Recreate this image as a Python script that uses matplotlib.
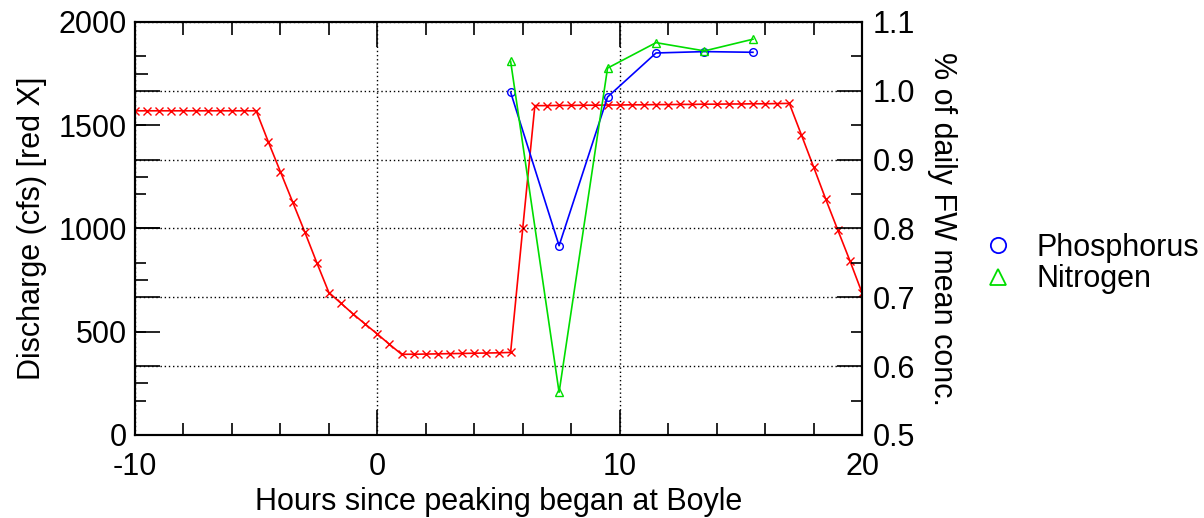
import matplotlib
matplotlib.use("Agg")
import matplotlib.pyplot as plt
from matplotlib.lines import Line2D
from matplotlib.ticker import MultipleLocator, FormatStrFormatter
import numpy as np

plt.rcParams["font.family"] = ["Liberation Sans", "DejaVu Sans"]
plt.rcParams["axes.unicode_minus"] = False

# discharge at Boyle, every half hour
hours = np.arange(-10, 20.01, 0.5)
discharge = [
    1570, 1570, 1570, 1570, 1570, 1570, 1570, 1570, 1570, 1570, 1570,
    1420, 1275, 1130, 985, 835, 690, 638, 586, 537, 489, 439, 391,
    391, 392, 393, 394, 395, 396, 397, 398, 400,
    1000,
    1595, 1595, 1596, 1596, 1597, 1597, 1598, 1598, 1599, 1599, 1600,
    1600, 1601, 1601, 1602, 1602, 1603, 1603, 1604, 1604, 1605, 1606,
    1453, 1299, 1143, 993, 844, 689,
]

# concentration samples, fraction of daily flow-weighted mean
sample_hours = [5.5, 7.5, 9.5, 11.5, 13.5, 15.5]
phosphorus = [0.998, 0.775, 0.991, 1.055, 1.057, 1.056]
nitrogen = [1.043, 0.562, 1.033, 1.070, 1.058, 1.075]

red = "#ff0000"
blue = "#0000ff"
green = "#00dd00"
fs = 22

fig = plt.figure(figsize=(12.04, 5.18), dpi=100)
ax = fig.add_axes([135 / 1204, 1 - 435 / 518, (862 - 135) / 1204, (435 - 22) / 518])
ax2 = ax.twinx()

ax.plot(hours, discharge, color=red, lw=1.2, marker="x", ms=6, mew=1.0, zorder=3)
ax2.plot(sample_hours, phosphorus, color=blue, lw=1.2, marker="o", ms=5.5,
         mfc="none", mew=1.0)
ax2.plot(sample_hours, nitrogen, color=green, lw=1.2, marker="^", ms=5.5,
         mfc="none", mew=1.0)

ax.set_xlim(-10, 20)
ax.set_ylim(0, 2000)
ax2.set_ylim(0.5, 1.1)

ax.xaxis.set_major_locator(MultipleLocator(10))
ax.xaxis.set_minor_locator(MultipleLocator(2))
ax.yaxis.set_major_locator(MultipleLocator(500))
ax.yaxis.set_minor_locator(MultipleLocator(250))
ax2.yaxis.set_major_locator(MultipleLocator(0.1))
ax2.yaxis.set_minor_locator(MultipleLocator(0.05))
ax2.yaxis.set_major_formatter(FormatStrFormatter("%.1f"))

ax.tick_params(axis="x", which="both", direction="in", top=True, bottom=True,
               labelsize=fs, pad=12, width=1.2)
ax.tick_params(axis="x", which="major", length=18)
ax.tick_params(axis="x", which="minor", length=9)
ax.tick_params(axis="y", which="both", direction="in", left=True, right=False,
               labelsize=fs, pad=6, width=1.2)
ax.tick_params(axis="y", which="major", length=18)
ax.tick_params(axis="y", which="minor", length=9)
ax2.tick_params(axis="y", which="both", direction="in", left=True, right=True,
                labelleft=False, labelright=True, labelsize=fs, pad=8, width=1.2)
ax2.tick_params(axis="y", which="major", length=18)
ax2.tick_params(axis="y", which="minor", length=8)

ax.grid(True, axis="x", which="major", color="black", linestyle=(0, (1, 2)), lw=1.0)
ax2.grid(True, axis="y", which="major", color="black", linestyle=(0, (1, 2)), lw=1.0)
ax.set_axisbelow(True)

for spine in list(ax.spines.values()) + list(ax2.spines.values()):
    spine.set_linewidth(1.5)

ax.set_xlabel("Hours since peaking began at Boyle", fontsize=fs, labelpad=4)
ax.set_ylabel("Discharge (cfs) [red X]", fontsize=fs, labelpad=8)
ax2.set_ylabel("% of daily FW mean conc.", fontsize=fs, rotation=-90, labelpad=30)

handles = [
    Line2D([], [], color=blue, marker="o", ls="none", ms=11, mfc="none", mew=1.3),
    Line2D([], [], color=green, marker="^", ls="none", ms=11, mfc="none", mew=1.3),
]
fig.legend(handles, ["Phosphorus", "Nitrogen"], loc="center left",
           bbox_to_anchor=(983 / 1204, 1 - 263.5 / 518), frameon=False, fontsize=fs,
           handlelength=1.0, handletextpad=0.76, labelspacing=0.05, borderpad=0,
           borderaxespad=0)

fig.savefig("out.png", dpi=100)
